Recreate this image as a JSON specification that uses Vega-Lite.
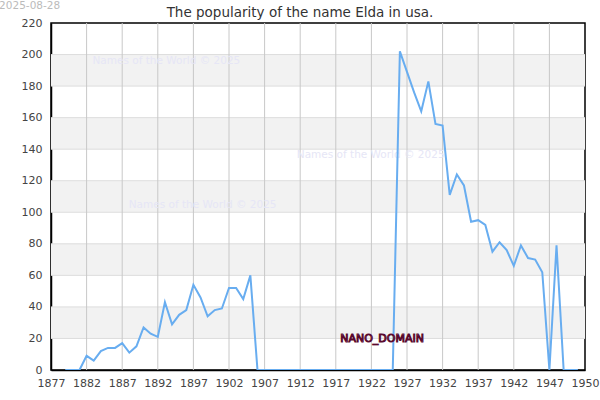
{
  "$schema": "https://vega.github.io/schema/vega-lite/v6.json",
  "autosize": "none",
  "width": 534,
  "height": 347,
  "padding": {"left": 51, "top": 23, "right": 15, "bottom": 30},
  "background": "white",
  "config": {
    "font": "DejaVu Sans",
    "view": {"stroke": "#000000", "strokeWidth": 1.5},
    "axis": {"labelOverlap": false}
  },
  "title": {
    "text": "The popularity of the name Elda in usa.",
    "fontSize": 13.5,
    "font": "DejaVu Sans",
    "fontWeight": "normal",
    "color": "#333333",
    "offset": 7,
    "anchor": "middle",
    "frame": "group",
    "dx": -18,
    "dy": 26
  },
  "datasets": {
    "pop": [
      {"year": 1879, "count": 0}, {"year": 1880, "count": 0}, {"year": 1881, "count": 0},
      {"year": 1882, "count": 9}, {"year": 1883, "count": 6}, {"year": 1884, "count": 12},
      {"year": 1885, "count": 14}, {"year": 1886, "count": 14}, {"year": 1887, "count": 17},
      {"year": 1888, "count": 11}, {"year": 1889, "count": 15}, {"year": 1890, "count": 27},
      {"year": 1891, "count": 23}, {"year": 1892, "count": 21}, {"year": 1893, "count": 43},
      {"year": 1894, "count": 29}, {"year": 1895, "count": 35}, {"year": 1896, "count": 38},
      {"year": 1897, "count": 54}, {"year": 1898, "count": 46}, {"year": 1899, "count": 34},
      {"year": 1900, "count": 38}, {"year": 1901, "count": 39}, {"year": 1902, "count": 52},
      {"year": 1903, "count": 52}, {"year": 1904, "count": 45}, {"year": 1905, "count": 60},
      {"year": 1906, "count": 0}, {"year": 1907, "count": 0}, {"year": 1908, "count": 0},
      {"year": 1909, "count": 0}, {"year": 1910, "count": 0}, {"year": 1911, "count": 0},
      {"year": 1912, "count": 0}, {"year": 1913, "count": 0}, {"year": 1914, "count": 0},
      {"year": 1915, "count": 0}, {"year": 1916, "count": 0}, {"year": 1917, "count": 0},
      {"year": 1918, "count": 0}, {"year": 1919, "count": 0}, {"year": 1920, "count": 0},
      {"year": 1921, "count": 0}, {"year": 1922, "count": 0}, {"year": 1923, "count": 0},
      {"year": 1924, "count": 0}, {"year": 1925, "count": 0}, {"year": 1926, "count": 202},
      {"year": 1927, "count": 189}, {"year": 1928, "count": 176}, {"year": 1929, "count": 164},
      {"year": 1930, "count": 183}, {"year": 1931, "count": 156}, {"year": 1932, "count": 155},
      {"year": 1933, "count": 111}, {"year": 1934, "count": 124}, {"year": 1935, "count": 117},
      {"year": 1936, "count": 94}, {"year": 1937, "count": 95}, {"year": 1938, "count": 92},
      {"year": 1939, "count": 75}, {"year": 1940, "count": 81}, {"year": 1941, "count": 76},
      {"year": 1942, "count": 66}, {"year": 1943, "count": 79}, {"year": 1944, "count": 71},
      {"year": 1945, "count": 70}, {"year": 1946, "count": 62}, {"year": 1947, "count": 0},
      {"year": 1948, "count": 79}, {"year": 1949, "count": 0}, {"year": 1950, "count": 0},
      {"year": 1951, "count": 0}
    ],
    "bands": [
      {"lo": 20, "hi": 40}, {"lo": 60, "hi": 80}, {"lo": 100, "hi": 120},
      {"lo": 140, "hi": 160}, {"lo": 180, "hi": 200}
    ],
    "hgrid": [
      {"v": 20}, {"v": 40}, {"v": 60}, {"v": 80}, {"v": 100}, {"v": 120},
      {"v": 140}, {"v": 160}, {"v": 180}, {"v": 200}
    ],
    "vgrid": [
      {"t": 1882}, {"t": 1887}, {"t": 1892}, {"t": 1897}, {"t": 1902}, {"t": 1907},
      {"t": 1912}, {"t": 1917}, {"t": 1922}, {"t": 1927}, {"t": 1932}, {"t": 1937},
      {"t": 1942}, {"t": 1947}
    ],
    "marks": [
      {"label": "Names of the World © 2025", "x": 1893.2, "y": 196},
      {"label": "Names of the World © 2025", "x": 1921.9, "y": 136},
      {"label": "Names of the World © 2025", "x": 1898.3, "y": 104.6}
    ]
  },
  "layer": [
    {
      "data": {"name": "bands"},
      "mark": {"type": "rect", "color": "#f2f2f2"},
      "encoding": {
        "x": {
          "datum": 1877,
          "type": "quantitative",
          "scale": {"domain": [1877, 1952], "nice": false, "zero": false},
          "axis": {
            "title": null,
            "values": [1877, 1882, 1887, 1892, 1897, 1902, 1907, 1912, 1917, 1922, 1927, 1932, 1937, 1942, 1947, 1952],
            "tickCount": 40,
            "labelExpr": "datum.value == 1952 ? '1950' : '' + datum.value",
            "grid": false,
            "ticks": false,
            "domain": true,
            "domainColor": "#000000",
            "domainWidth": 1.5,
            "labelFontSize": 11,
            "labelColor": "#444444",
            "labelPadding": 7,
            "labelFont": "DejaVu Sans",
            "labelOverlap": false,
            "labelFlush": false
          }
        },
        "x2": {"datum": 1952},
        "y": {
          "field": "lo",
          "type": "quantitative",
          "scale": {"domain": [0, 220], "nice": false},
          "axis": {
            "title": null,
            "values": [0, 20, 40, 60, 80, 100, 120, 140, 160, 180, 200, 220],
            "tickCount": 40,
            "grid": false,
            "ticks": false,
            "domain": true,
            "domainColor": "#000000",
            "domainWidth": 1.5,
            "labelFontSize": 11,
            "labelColor": "#444444",
            "labelPadding": 9,
            "labelFont": "DejaVu Sans",
            "labelOverlap": false,
            "labelFlush": false
          }
        },
        "y2": {"field": "hi"}
      }
    },
    {
      "data": {"name": "hgrid"},
      "mark": {"type": "rule", "color": "#dddddd", "strokeWidth": 1},
      "encoding": {
        "y": {"field": "v", "type": "quantitative"}
      }
    },
    {
      "data": {"name": "vgrid"},
      "mark": {"type": "rule", "color": "#c8c8c8", "strokeWidth": 1},
      "encoding": {
        "x": {"field": "t", "type": "quantitative"}
      }
    },
    {
      "data": {"name": "marks"},
      "mark": {"type": "text", "fontSize": 10.5, "color": "#e6e6f6", "align": "center", "baseline": "middle", "font": "DejaVu Sans"},
      "encoding": {
        "x": {"field": "x", "type": "quantitative"},
        "y": {"field": "y", "type": "quantitative"},
        "text": {"field": "label"}
      }
    },
    {
      "data": {"name": "pop"},
      "mark": {"type": "line", "color": "#68adf0", "strokeWidth": 2, "clip": true},
      "encoding": {
        "x": {"field": "year", "type": "quantitative"},
        "y": {"field": "count", "type": "quantitative"}
      }
    },
    {
      "data": {"values": [{"label": "NANO_DOMAIN", "x": 1923.5, "y": 19.7}]},
      "mark": {"type": "text", "fontSize": 11, "fill": "#c88aa8", "stroke": "#5a0a2e", "strokeWidth": 1, "align": "center", "baseline": "middle", "font": "DejaVu Sans"},
      "encoding": {
        "x": {"field": "x", "type": "quantitative"},
        "y": {"field": "y", "type": "quantitative"},
        "text": {"field": "label"}
      }
    },
    {
      "data": {"values": [{"label": "2025-08-28", "x": 1874.0, "y": 231}]},
      "mark": {"type": "text", "fontSize": 10.5, "color": "#bbbbbb", "align": "center", "baseline": "middle", "font": "DejaVu Sans", "clip": false},
      "encoding": {
        "x": {"field": "x", "type": "quantitative"},
        "y": {"field": "y", "type": "quantitative"},
        "text": {"field": "label"}
      }
    }
  ]
}
